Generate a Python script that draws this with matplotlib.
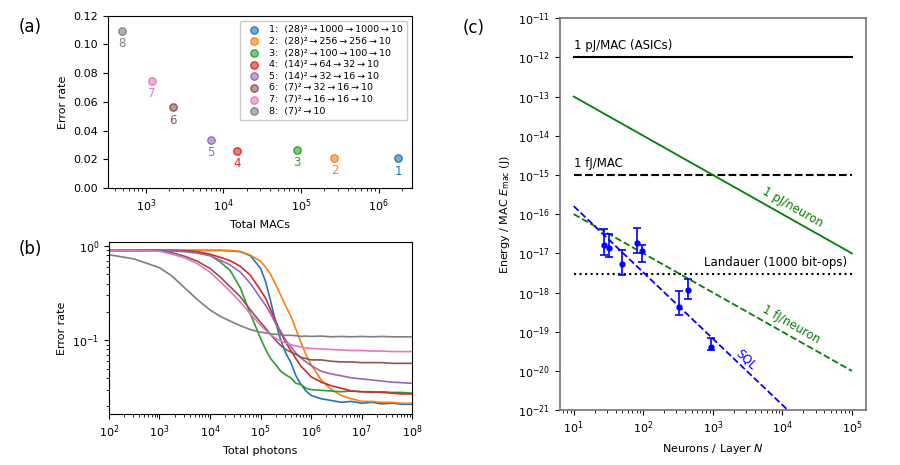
import numpy as np
import matplotlib
matplotlib.use('Agg')
import matplotlib.pyplot as plt
from matplotlib.colors import to_rgba
from matplotlib.ticker import NullLocator, FixedLocator, LogFormatterSciNotation

# ---- panel (a): error rate vs total MACs ----
ts = '\u2009'
arr = ts + '\u2192' + ts
net_labels = [
    '1:  (28)\u00b2' + arr + '1000' + arr + '1000' + arr + '10',
    '2:  (28)\u00b2' + arr + '256' + arr + '256' + arr + '10',
    '3:  (28)\u00b2' + arr + '100' + arr + '100' + arr + '10',
    '4:  (14)\u00b2' + arr + '64' + arr + '32' + arr + '10',
    '5:  (14)\u00b2' + arr + '32' + arr + '16' + arr + '10',
    '6:  (7)\u00b2' + arr + '32' + arr + '16' + arr + '10',
    '7:  (7)\u00b2' + arr + '16' + arr + '16' + arr + '10',
    '8:  (7)\u00b2' + arr + '10',
]
total_macs = [1794000, 268800, 89400, 14912, 6944, 2240, 1200, 490]
final_error = [0.0205, 0.0208, 0.0265, 0.0258, 0.0335, 0.0562, 0.0745, 0.1095]
net_colors = ['C0', 'C1', 'C2', 'C3', 'C4', 'C5', 'C6', 'C7']

# ---- panel (b): error rate vs total photons (log10 photons grid) ----
log_photons = [2.0, 2.5, 3.0, 3.25, 3.5, 3.75, 4.0, 4.2, 4.4, 4.6, 4.8, 5.0,
               5.1, 5.2, 5.3, 5.4, 5.5, 5.6, 5.7, 5.8, 5.9, 6.0, 6.2, 6.4,
               6.6, 6.8, 7.0, 7.2, 7.4, 7.6, 7.8, 8.0]
err_net1 = [0.90, 0.90, 0.90, 0.90, 0.90, 0.90, 0.90, 0.90, 0.89, 0.87, 0.79, 0.58,
            0.42, 0.26, 0.155, 0.10, 0.073, 0.058, 0.042, 0.034, 0.029, 0.026, 0.024, 0.023,
            0.022, 0.0225, 0.0215, 0.022, 0.0212, 0.0215, 0.021, 0.021]
err_net2 = [0.90, 0.90, 0.90, 0.90, 0.90, 0.90, 0.90, 0.90, 0.90, 0.88, 0.80, 0.69,
            0.60, 0.50, 0.39, 0.30, 0.23, 0.18, 0.13, 0.095, 0.070, 0.055, 0.038, 0.030,
            0.026, 0.024, 0.0225, 0.0225, 0.022, 0.022, 0.0215, 0.0215]
err_net3 = [0.90, 0.90, 0.90, 0.90, 0.89, 0.87, 0.80, 0.68, 0.55, 0.36, 0.19, 0.105,
            0.080, 0.064, 0.055, 0.047, 0.043, 0.040, 0.035, 0.034, 0.031, 0.030, 0.0295, 0.029,
            0.0285, 0.029, 0.0285, 0.028, 0.0285, 0.028, 0.028, 0.0275]
err_net4 = [0.90, 0.90, 0.90, 0.90, 0.89, 0.87, 0.82, 0.76, 0.70, 0.61, 0.49, 0.34,
            0.28, 0.21, 0.16, 0.12, 0.095, 0.078, 0.064, 0.053, 0.047, 0.041, 0.036, 0.033,
            0.031, 0.029, 0.0285, 0.0285, 0.028, 0.0275, 0.027, 0.027]
err_net5 = [0.90, 0.90, 0.90, 0.89, 0.87, 0.84, 0.79, 0.71, 0.63, 0.53, 0.40, 0.28,
            0.235, 0.19, 0.15, 0.125, 0.10, 0.086, 0.073, 0.065, 0.059, 0.054, 0.047, 0.044,
            0.042, 0.040, 0.039, 0.038, 0.037, 0.036, 0.0355, 0.035]
err_net6 = [0.90, 0.90, 0.89, 0.85, 0.78, 0.69, 0.58, 0.47, 0.37, 0.29, 0.21, 0.155,
            0.135, 0.115, 0.100, 0.088, 0.080, 0.075, 0.071, 0.066, 0.064, 0.062, 0.062, 0.060,
            0.059, 0.059, 0.058, 0.058, 0.058, 0.057, 0.057, 0.057]
err_net7 = [0.90, 0.90, 0.88, 0.82, 0.75, 0.65, 0.53, 0.42, 0.33, 0.255, 0.19, 0.145,
            0.128, 0.115, 0.105, 0.098, 0.094, 0.090, 0.087, 0.085, 0.083, 0.082, 0.081, 0.080,
            0.079, 0.078, 0.078, 0.077, 0.077, 0.076, 0.076, 0.076]
err_net8 = [0.81, 0.73, 0.59, 0.48, 0.36, 0.27, 0.21, 0.18, 0.16, 0.143, 0.13, 0.122,
            0.12, 0.117, 0.116, 0.114, 0.113, 0.113, 0.112, 0.110, 0.111, 0.110, 0.111, 0.109,
            0.110, 0.109, 0.110, 0.109, 0.110, 0.109, 0.109, 0.109]
photon_curves = [err_net1, err_net2, err_net3, err_net4,
                 err_net5, err_net6, err_net7, err_net8]

# ---- panel (c): energy per MAC vs neurons per layer ----
ref_n = [10, 1e5]
asic_energy = [1e-12, 1e-12]
fj_mac_energy = [1e-15, 1e-15]
landauer_energy = [3e-18, 3e-18]
pj_neuron_energy = [1e-13, 1e-17]
fj_neuron_energy = [1e-16, 1e-20]
sql_n = [10, 1.2e4]
sql_energy = [1.6e-16, 1e-21]
energy_ticks = [1e-21, 1e-20, 1e-19, 1e-18, 1e-17, 1e-16, 1e-15, 1e-14, 1e-13, 1e-12, 1e-11]

meas_n = [27, 32.5, 49, 80.5, 96, 330, 436, 944]
meas_energy = [1.67e-17, 1.4e-17, 5.4e-18, 1.85e-17, 1.12e-17, 4.2e-19, 1.17e-18, 4.1e-20]
meas_hi = [4.1e-17, 3.2e-17, 1.2e-17, 4.5e-17, 1.6e-17, 1.07e-18, 2.2e-18, 7.1e-20]
meas_lo = [9.3e-18, 8.1e-18, 2.8e-18, 1.05e-17, 6.0e-18, 2.6e-19, 6.7e-19, 3.5e-20]

plt.rcParams['font.size'] = 8

fig = plt.figure(figsize=(9, 4.65), dpi=100)
ax_a = fig.add_axes([0.12, 0.596, 0.338, 0.37])
ax_b = fig.add_axes([0.121, 0.11, 0.337, 0.37])
ax_c = fig.add_axes([0.622, 0.118, 0.34, 0.843])

# (a)
for i in range(len(total_macs)):
    c = net_colors[i]
    ax_a.scatter(total_macs[i], final_error[i], s=28, facecolor=to_rgba(c, 0.6),
                 edgecolor=c, linewidth=0.9, label=net_labels[i], zorder=3)
    ax_a.text(total_macs[i], final_error[i] - 0.009, str(i + 1), color=c,
              ha='center', va='center', fontsize=8.5)
ax_a.set_xscale('log')
ax_a.set_ylim(0, 0.12)
ax_a.set_yticks(np.arange(0, 0.121, 0.02))
ax_a.set_xlabel('Total MACs')
ax_a.set_ylabel('Error rate')
ax_a.legend(loc='upper right', fontsize=6.8, labelspacing=0.28, handletextpad=0.6,
            borderpad=0.5, framealpha=1)

# (b)
photons = 10 ** np.array(log_photons)
for i, curve in enumerate(photon_curves):
    ax_b.plot(photons, curve, color=net_colors[i], lw=1.2)
ax_b.set_xscale('log')
ax_b.set_yscale('log')
ax_b.set_xlim(1e2, 1e8)
ax_b.set_ylim(0.0166, 1.11)
ax_b.set_xlabel('Total photons')
ax_b.set_ylabel('Error rate')

# (c)
ax_c.plot(ref_n, asic_energy, color='k', lw=1.5)
ax_c.plot(ref_n, fj_mac_energy, color='k', lw=1.5, ls='--')
ax_c.plot(ref_n, landauer_energy, color='k', lw=1.5, ls=':')
ax_c.plot(ref_n, pj_neuron_energy, color='green', lw=1.3)
ax_c.plot(ref_n, fj_neuron_energy, color='green', lw=1.3, ls='--')
ax_c.plot(sql_n, sql_energy, color='blue', lw=1.3, ls='--')
yerr = [np.array(meas_energy) - np.array(meas_lo), np.array(meas_hi) - np.array(meas_energy)]
ax_c.errorbar(meas_n, meas_energy, yerr=yerr, fmt='o', color='blue', ms=3.5,
              capsize=3, elinewidth=1.2, capthick=1.2)

ax_c.text(10, 1.35e-12, '1 pJ/MAC (ASICs)', fontsize=8.5, ha='left', va='bottom')
ax_c.text(10, 1.35e-15, '1 fJ/MAC', fontsize=8.5, ha='left', va='bottom')
ax_c.text(8.5e4, 4.1e-18, 'Landauer (1000 bit-ops)', fontsize=8.5, ha='right', va='bottom')
ax_c.text(1.4e4, 1.5e-16, '1 pJ/neuron', color='green', fontsize=8.5, rotation=-30,
          ha='center', va='center', rotation_mode='anchor')
ax_c.text(1.35e4, 1.5e-19, '1 fJ/neuron', color='green', fontsize=8.5, rotation=-30,
          ha='center', va='center', rotation_mode='anchor')
ax_c.text(3000, 2.0e-20, 'SQL', color='blue', fontsize=8.5, rotation=-44,
          ha='center', va='center', rotation_mode='anchor')

ax_c.set_xscale('log')
ax_c.set_yscale('log')
ax_c.set_ylim(1e-21, 1e-11)
ax_c.yaxis.set_major_locator(FixedLocator(energy_ticks))
ax_c.yaxis.set_major_formatter(LogFormatterSciNotation())
ax_c.yaxis.set_minor_locator(NullLocator())
ax_c.set_xlabel('Neurons / Layer $N$')
ax_c.set_ylabel(r'Energy / MAC $E_{\mathrm{mac}}$ (J)')
for sp in ax_c.spines.values():
    sp.set_color('0.45')
    sp.set_linewidth(1.2)

fig.text(0.034, 0.942, '(a)', fontsize=12, ha='center', va='center')
fig.text(0.034, 0.465, '(b)', fontsize=12, ha='center', va='center')
fig.text(0.526, 0.940, '(c)', fontsize=12, ha='center', va='center')

fig.savefig('out.png', dpi=100)
